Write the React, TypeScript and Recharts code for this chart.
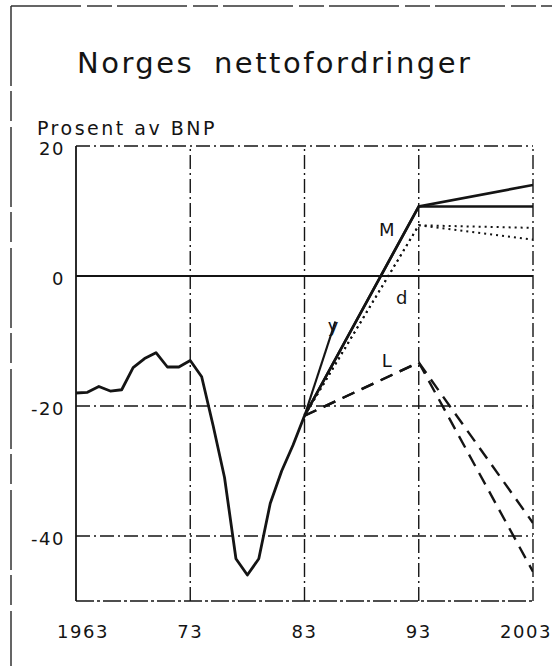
import React from 'react';
import { LineChart, Line, XAxis, YAxis, ReferenceLine, ReferenceDot } from 'recharts';

// ---- data ----
const historyYears = [1963, 1964, 1965, 1966, 1967, 1968, 1969, 1970, 1971, 1972, 1973, 1974, 1975, 1976, 1977, 1978, 1979, 1980, 1981, 1982, 1983];
const historyValues = [-18, -17.9, -17, -17.7, -17.5, -14.1, -12.7, -11.8, -14, -14, -13, -15.5, -23, -31, -43.5, -46, -43.5, -35, -30, -26, -21.5];

const projYears = [1983, 1993, 2003];
const mBaseValues = [-21.5, 10.7, 10.7];
const mHighValues = [-21.5, 10.7, 14];
const dHighValues = [-21.5, 7.8, 7.4];
const dLowValues = [-21.5, 7.8, 5.6];
const lHighValues = [-21.5, -13.3, -38];
const lLowValues = [-21.5, -13.3, -45.5];

const yYears = [1983, 1985.7];
const yValues = [-21.5, -7];

const xTicks = [1963, 1973, 1983, 1993, 2003];
const xTickLabels = ['1963', '73', '83', '93', '2003'];
const yTicks = [-40, -20, 0, 20];
const yTickLabels = ['-40', '-20', '0', '20'];

const gridYears = [1973, 1983, 1993, 2003];
const gridValues = [20, -20, -40];

const annotationTexts = ['M', 'd', 'y', 'L'];
const annotationYears = [1990.2, 1991.5, 1985.5, 1990.2];
const annotationValues = [7.2, -3.4, -7.7, -13];

const title = 'Norges nettofordringer';
const unitLabel = 'Prosent av BNP';

// ---- helpers ----
const zip = (xs: number[], vs: number[]) => xs.map((x, i) => ({ year: x, value: vs[i] }));

const historyData = zip(historyYears, historyValues);
const mBaseData = zip(projYears, mBaseValues);
const mHighData = zip(projYears, mHighValues);
const dHighData = zip(projYears, dHighValues);
const dLowData = zip(projYears, dLowValues);
const lHighData = zip(projYears, lHighValues);
const lLowData = zip(projYears, lLowValues);
const yData = zip(yYears, yValues);

const INK = '#141414';
const FONT = 'DejaVu Sans';
const GRID_DASH = '14 4 2 4';

const XTick = (props: any) => {
  const { x, y, payload } = props;
  const i = xTicks.indexOf(payload.value);
  const dx = i === 0 ? 7 : i === xTicks.length - 1 ? -7 : 0;
  return (
    <text x={x + dx} y={y} dy="0.71em" textAnchor="middle" fontSize={18} fontFamily={FONT} letterSpacing={1.5} fill={INK}>
      {xTickLabels[i]}
    </text>
  );
};

const YTick = (props: any) => {
  const { x, y, payload } = props;
  const i = yTicks.indexOf(payload.value);
  return (
    <text x={x} y={y + 3} dy="0.35em" textAnchor="end" fontSize={18} fontFamily={FONT} letterSpacing={1.5} fill={INK}>
      {yTickLabels[i]}
    </text>
  );
};

export default function App() {
  return (
    <div style={{ position: 'absolute', left: 0, top: 0, width: 552, height: 666, background: '#fff', overflow: 'hidden' }}>
      <svg style={{ position: 'absolute', left: 0, top: 0 }} width={552} height={666}>
        <line x1={11} y1={6} x2={552} y2={6} stroke="#333" strokeWidth={1.5} strokeDasharray="70 6 25 5" />
        <line x1={11} y1={6} x2={11} y2={666} stroke="#333" strokeWidth={1.5} strokeDasharray="80 5 30 6" />
      </svg>
      <div style={{ position: 'absolute', left: 0, top: 0 }}>
        <LineChart width={552} height={666} margin={{ top: 146, right: 19, bottom: 0, left: 0 }}>
          <XAxis
            dataKey="year"
            type="number"
            domain={[1963, 2003]}
            ticks={xTicks}
            allowDataOverflow
            height={65}
            tickLine={false}
            tickMargin={18}
            tick={<XTick />}
            axisLine={{ stroke: INK, strokeWidth: 1.6, strokeDasharray: '18 3 3 3' }}
          />
          <YAxis
            type="number"
            domain={[-50, 20]}
            ticks={yTicks}
            allowDataOverflow
            width={76}
            tickLine={false}
            tickMargin={5}
            tick={<YTick />}
            axisLine={{ stroke: INK, strokeWidth: 1.8 }}
          />
          {gridYears.map((g) => (
            <ReferenceLine key={'gx' + g} x={g} stroke={INK} strokeWidth={1.4} strokeDasharray={GRID_DASH} />
          ))}
          {gridValues.map((g) => (
            <ReferenceLine key={'gy' + g} y={g} stroke={INK} strokeWidth={1.4} strokeDasharray={GRID_DASH} />
          ))}
          <ReferenceLine y={0} stroke={INK} strokeWidth={1.8} />

          <Line data={historyData} dataKey="value" type="linear" stroke={INK} strokeWidth={2.8} strokeLinejoin="round" dot={false} isAnimationActive={false} />
          <Line data={yData} dataKey="value" type="linear" stroke={INK} strokeWidth={2.2} dot={false} isAnimationActive={false} />
          <Line data={mBaseData} dataKey="value" type="linear" stroke={INK} strokeWidth={2.6} dot={false} isAnimationActive={false} />
          <Line data={mHighData} dataKey="value" type="linear" stroke={INK} strokeWidth={2.6} dot={false} isAnimationActive={false} />
          <Line data={dHighData} dataKey="value" type="linear" stroke={INK} strokeWidth={2} strokeDasharray="2 4" dot={false} isAnimationActive={false} />
          <Line data={dLowData} dataKey="value" type="linear" stroke={INK} strokeWidth={2} strokeDasharray="2 4" dot={false} isAnimationActive={false} />
          <Line data={lHighData} dataKey="value" type="linear" stroke={INK} strokeWidth={2.4} strokeDasharray="13 8" dot={false} isAnimationActive={false} />
          <Line data={lLowData} dataKey="value" type="linear" stroke={INK} strokeWidth={2.4} strokeDasharray="13 8" dot={false} isAnimationActive={false} />

          {annotationTexts.map((t, i) => (
            <ReferenceDot
              key={'a' + t}
              x={annotationYears[i]}
              y={annotationValues[i]}
              r={0}
              shape={(p: any) => (
                <text x={p.cx} y={p.cy} dy="0.35em" textAnchor="middle" fontSize={18} fontFamily={FONT} fill={INK}>
                  {t}
                </text>
              )}
            />
          ))}
        </LineChart>
      </div>
      <div style={{ position: 'absolute', left: 77, top: 49, fontFamily: FONT, fontSize: 29, lineHeight: '29px', letterSpacing: 2.5, wordSpacing: 8, color: INK, whiteSpace: 'nowrap' }}>
        {title}
      </div>
      <div style={{ position: 'absolute', left: 37, top: 119, fontFamily: FONT, fontSize: 19, lineHeight: '19px', letterSpacing: 2.5, color: INK, whiteSpace: 'nowrap' }}>
        {unitLabel}
      </div>
    </div>
  );
}
